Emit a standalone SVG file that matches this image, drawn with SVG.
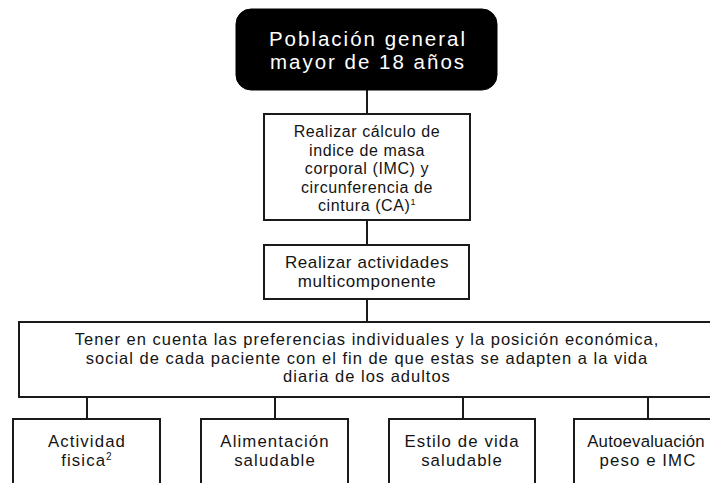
<svg xmlns="http://www.w3.org/2000/svg" width="710" height="483" viewBox="0 0 710 483">
  <style>
    .box { fill: #ffffff; stroke: #1a1a1a; stroke-width: 2; }
    .dark { fill: #000000; stroke: #000000; stroke-width: 1; }
    .t { font-family: "Liberation Sans", Arial, sans-serif; fill: #141414; text-anchor: middle; }
    .tw { font-family: "Liberation Sans", Arial, sans-serif; fill: #ffffff; text-anchor: middle; font-size: 20.5px; letter-spacing: 2px; }
    .b2 { font-size: 16px; letter-spacing: 0.6px; }
    .b3 { font-size: 17px; letter-spacing: 0.6px; }
    .b4 { font-size: 16.5px; letter-spacing: 1px; }
    .b5 { font-size: 16.8px; letter-spacing: 1.1px; }
    .conn { stroke: #1a1a1a; stroke-width: 2; fill: none; }
  </style>
  <rect width="710" height="483" fill="#ffffff"/>
  <g id="connectors">
    <line class="conn" x1="367" y1="90" x2="367" y2="114"/>
    <line class="conn" x1="367" y1="220" x2="367" y2="245"/>
    <line class="conn" x1="367" y1="299" x2="367" y2="322"/>
    <line class="conn" x1="87" y1="397" x2="87" y2="419"/>
    <line class="conn" x1="275" y1="397" x2="275" y2="419"/>
    <line class="conn" x1="463" y1="397" x2="463" y2="419"/>
    <line class="conn" x1="648" y1="397" x2="648" y2="419"/>
  </g>
  <g id="node-poblacion">
    <rect class="dark" x="236" y="9" width="261" height="81" rx="15" ry="15"/>
    <text class="tw" x="368" y="46">Población general</text>
    <text class="tw" x="368" y="69">mayor de 18 años</text>
  </g>
  <g id="node-imc">
    <rect class="box" x="264" y="114" width="206" height="106"/>
    <text class="t b2" x="367" y="137">Realizar cálculo de</text>
    <text class="t b2" x="367" y="155.5">indice de masa</text>
    <text class="t b2" x="367" y="174">corporal (IMC) y</text>
    <text class="t b2" x="367" y="192.5">circunferencia de</text>
    <text class="t b2" x="367" y="211">cintura (CA)<tspan font-size="9" dy="-6">1</tspan></text>
  </g>
  <g id="node-actividades">
    <rect class="box" x="264" y="245" width="205" height="54"/>
    <text class="t b3" x="367" y="268">Realizar actividades</text>
    <text class="t b3" x="367" y="287">multicomponente</text>
  </g>
  <g id="node-preferencias">
    <rect class="box" x="19" y="322" width="697" height="75"/>
    <text class="t b4" x="367" y="345">Tener en cuenta las preferencias individuales y la posición económica,</text>
    <text class="t b4" x="367" y="363.5">social de cada paciente con el fin de que estas se adapten a la vida</text>
    <text class="t b4" x="367" y="382">diaria de los adultos</text>
  </g>
  <g id="node-actividad-fisica">
    <rect class="box" x="13" y="419" width="147" height="80"/>
    <text class="t b5" x="87" y="447">Actividad</text>
    <text class="t b5" x="87" y="466">fisica<tspan font-size="10" dy="-6">2</tspan></text>
  </g>
  <g id="node-alimentacion">
    <rect class="box" x="201" y="419" width="147" height="80"/>
    <text class="t b5" x="275" y="447">Alimentación</text>
    <text class="t b5" x="275" y="466">saludable</text>
  </g>
  <g id="node-estilo">
    <rect class="box" x="389" y="419" width="146" height="80"/>
    <text class="t b5" x="462" y="447">Estilo de vida</text>
    <text class="t b5" x="462" y="466">saludable</text>
  </g>
  <g id="node-autoevaluacion">
    <rect class="box" x="574" y="419" width="147" height="80"/>
    <text class="t b5" x="646" y="447" style="letter-spacing:0.2px">Autoevaluación</text>
    <text class="t b5" x="648" y="466">peso e IMC</text>
  </g>
</svg>
